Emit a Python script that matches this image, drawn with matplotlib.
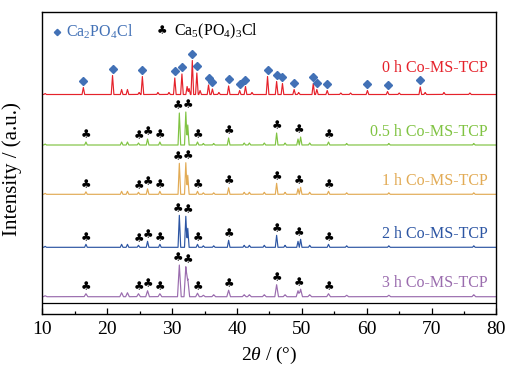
import numpy as np
import matplotlib
matplotlib.use("Agg")
import matplotlib.pyplot as plt

plt.rcParams['font.family'] = ['Liberation Serif', 'DejaVu Sans']
plt.rcParams['mathtext.fontset'] = 'custom'
plt.rcParams['mathtext.rm'] = 'Liberation Serif'
plt.rcParams['mathtext.it'] = 'Liberation Serif:italic'

# --- data (peak positions in 2theta, intensities in arbitrary units) ---
red_pos = [10.4, 16.3, 20.8, 22.2, 23.1, 24.9, 25.4, 27.8, 29.5, 30.4, 31.5, 32.3, 32.6,
           33.1, 33.8, 34.3, 35.6, 36.2, 37.2, 38.7, 40.4, 41.3, 42.3, 44.7, 46.1, 47.0,
           48.8, 49.5, 51.75, 52.3, 53.9, 56.0, 57.5, 60.1, 63.2, 65.0, 68.25, 69.0, 71.9, 75.9]
red_int = [1, 7, 19, 5, 5, 2, 18, 2, 2, 16.5, 20.5, 8, 6,
           34, 21.5, 4, 9.5, 5.5, 2, 8.5, 4, 8, 2, 18, 13, 11,
           5, 2, 11, 5, 4, 1.5, 1.5, 4, 3, 1.5, 7.5, 2, 2, 1.5]
red_marks = [16.3, 20.8, 25.4, 30.4, 31.5, 33.1, 33.8, 35.6, 36.2, 38.7, 40.4, 41.3,
             44.7, 46.1, 47.0, 48.8, 51.75, 52.3, 53.9, 60.1, 63.2, 68.25]

ca5_pos = [10.4, 16.7, 22.2, 23.1, 24.8, 26.2, 28.1, 31.1, 32.1, 32.4, 33.9, 34.8, 36.4,
           38.7, 41.1, 41.9, 44.2, 46.1, 47.4, 49.4, 49.8, 51.2, 54.1, 56.9, 63.4, 76.5]
green_int = [1, 3, 3, 3, 2, 6, 3, 32, 33, 20, 3, 1.5, 1.5,
             7, 2, 2, 2, 12, 2, 6, 8, 2, 3, 1.5, 1.5, 1.5]
orange_int = [1, 2.5, 3, 3, 2, 5.5, 3, 31, 31.6, 19, 3, 1.5, 1.5,
              6.5, 2, 2, 2, 11, 2, 5.5, 7, 2, 3, 1.5, 1.5, 1.5]
blue_int = [1, 3, 3, 3, 2, 6, 3, 32, 31, 19, 3, 1.5, 1.5,
            7, 2, 2, 2, 12, 2, 6, 8, 2, 3, 1.5, 1.5, 1.5]
purple_int = [1, 3, 4, 4, 3, 6, 3, 31.7, 30, 18, 3.5, 1.5, 2,
              6.5, 2, 2, 2, 12, 2, 6, 7.5, 2, 3, 1.5, 1.5, 2]
ca5_marks = [16.7, 24.8, 26.2, 28.1, 30.95, 32.4, 33.9, 38.7, 46.1, 49.6, 54.1]

names = ['0 h Co-MS-TCP', '0.5 h Co-MS-TCP', '1 h Co-MS-TCP', '2 h Co-MS-TCP', '3 h Co-MS-TCP']
colors = ['#e5222b', '#80c342', '#e2ab55', '#2c55a3', '#9a6cae']
offsets = [219.5, 169, 119.7, 66.7, 17.3]
widths = [0.2, 0.2, 0.2, 0.2, 0.28]
series = [(red_pos, red_int), (ca5_pos, green_int), (ca5_pos, orange_int),
          (ca5_pos, blue_int), (ca5_pos, purple_int)]
marks = [red_marks, ca5_marks, ca5_marks, ca5_marks, ca5_marks]

diamond_color = '#4271b6'


def profile(x, pos, ints, w):
    y = np.zeros_like(x)
    for p, h in zip(pos, ints):
        y += h * np.clip(1 - np.abs(x - p) / w, 0, None)
    return y


fig = plt.figure(figsize=(5.1, 3.69), dpi=100)
ax = fig.add_axes([0.0833, 0.149, 0.8902, 0.8185])

x = np.arange(10, 80.001, 0.01)
for i, ((pos, ints), name, c, off, w) in enumerate(zip(series, names, colors, offsets, widths)):
    y = profile(x, pos, ints, w)
    ax.plot(x, y + off, color=c, lw=0.85)
    ax.text(78.6, off + 26.5 if i == 0 else off + 13.5, name, color=c, fontsize=11.5,
            ha='right', va='center')
    for m in marks[i]:
        top = y[np.abs(x - m) < 0.35].max() + off
        if i == 0:
            ax.plot(m, top + 6.5, 'D', ms=4.2, color=diamond_color, mec=diamond_color)
        else:
            ax.text(m, top + 7, '\u2663', family='DejaVu Sans', fontsize=8.5,
                    ha='center', va='center', color='black')

ax.axhline(11.5, color='black', lw=0.9)

# legend
ax.plot(12.3, 282.3, 'D', ms=3.2, color=diamond_color, mec=diamond_color)
ax.text(13.7, 282.3, r'Ca$_2$PO$_4$Cl', color=diamond_color, fontsize=11.5, va='center')
ax.text(28.4, 283.5, '\u2663', family='DejaVu Sans', fontsize=8.5, ha='center', va='center')
ax.text(30.3, 282.3, r'Ca$_5$(PO$_4$)$_3$Cl', color='black', fontsize=11.5, va='center')

ax.set_xlim(10, 80)
ax.set_ylim(0, 302)
ax.set_xticks(np.arange(10, 81, 10))
ax.set_xticks(np.arange(15, 80, 10), minor=True)
ax.set_yticks([])
ax.tick_params(axis='x', which='major', direction='in', length=4.5, width=0.9,
               labelsize=14, pad=5)
ax.tick_params(axis='x', which='minor', direction='in', length=2.2, width=0.9)
for s in ax.spines.values():
    s.set_linewidth(1.0)

ax.set_xlabel(r'2$\it{\theta}$ / (°)', fontsize=14, labelpad=5)
ax.set_ylabel('Intensity / (a.u.)', fontsize=15)
ax.yaxis.set_label_coords(-0.045, 0.48)

fig.savefig('out.png', dpi=100)
